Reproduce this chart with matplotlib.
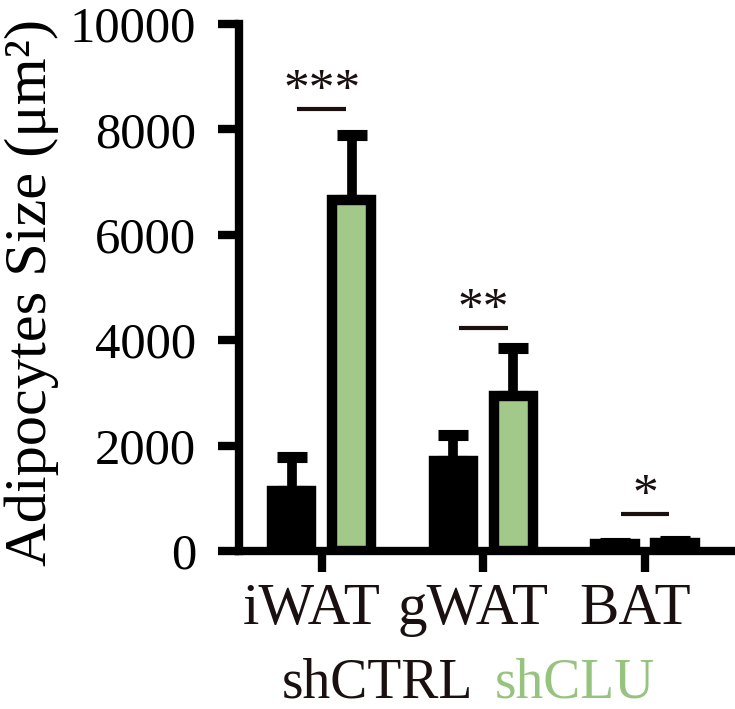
import matplotlib
matplotlib.use("Agg")
import matplotlib.pyplot as plt
import matplotlib.transforms as mtransforms
import numpy as np

plt.rcParams['font.family'] = ['Liberation Serif', 'DejaVu Serif']

tissues = ["iWAT", "gWAT", "BAT"]
ctrl_mean = [1130, 1710, 130]
ctrl_err = [660, 500, 20]
clu_mean = [6660, 2940, 160]
clu_err = [1230, 910, 30]
stars = ["***", "**", "*"]
sig_y = [8390, 4240, 700]
yticks = [0, 2000, 4000, 6000, 8000, 10000]

green = "#a3c98a"

fig = plt.figure(figsize=(7.35, 7.09), dpi=100)
ax = fig.add_axes([239 / 735, 1 - 551 / 709, (731.7 - 239) / 735, (551 - 24) / 709])

x = np.arange(len(tissues))
off = 0.186
w = 0.243
lw = 7.5

ax.bar(x - off, ctrl_mean, w, color="black", edgecolor="black", linewidth=lw, zorder=3)
ax.bar(x + off, clu_mean, w, color=green, edgecolor="black", linewidth=lw, zorder=3)
for xs, m, e in [(x - off, ctrl_mean, ctrl_err), (x + off, clu_mean, clu_err)]:
    ax.errorbar(xs, m, yerr=[np.zeros(len(e)), e], fmt="none", ecolor="black",
                elinewidth=7, capsize=11, capthick=8, zorder=2)

# significance
for xi, s, yy in zip(x, stars, sig_y):
    ax.plot([xi - 0.15, xi + 0.15], [yy, yy], color="#1a1010", lw=3, solid_capstyle="butt", zorder=4)
    ax.text(xi, yy + 110, s, ha="center", va="baseline", fontsize=37, color="#1a1010")

ax.set_xlim(-0.511, 2.536)
ax.set_ylim(0, 10000)
ax.set_yticks(yticks)
ax.set_yticklabels([str(v) for v in yticks])
ax.set_xticks(x)
ax.set_xticklabels(tissues)

for s in ["top", "right"]:
    ax.spines[s].set_visible(False)
for s in ["left", "bottom"]:
    ax.spines[s].set_linewidth(6)
    ax.spines[s].set_capstyle("projecting")

ax.tick_params(axis="y", length=15, width=6, labelsize=36.5, pad=16)
ax.tick_params(axis="x", length=15, width=6, labelsize=42.5, pad=8, labelcolor="#1a1010")
shift = mtransforms.ScaledTranslation(-0.10, 0, fig.dpi_scale_trans)
for lab in ax.get_xticklabels():
    lab.set_transform(lab.get_transform() + shift)

ax.set_ylabel("Adipocytes Size (μm²)", fontsize=43.5)
ax.yaxis.set_label_coords(-0.365, 0.49)

fig.text(281.7 / 735, 12 / 709, "shCTRL", fontsize=40, va="baseline", ha="left", color="#1a1010")
fig.text(495 / 735, 12 / 709, "shCLU", fontsize=40, va="baseline", ha="left", color="#96c47f")

fig.savefig("out.png", dpi=100)
